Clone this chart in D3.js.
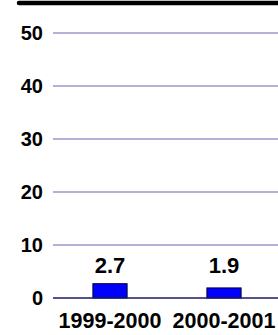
<!DOCTYPE html>
<html>
<head>
<meta charset="utf-8">
<script src="https://cdn.jsdelivr.net/npm/d3@7"></script>
<style>
  body { margin: 0; background: #fff; }
  text { font-family: "Liberation Sans", Arial, sans-serif; font-weight: bold; }
</style>
</head>
<body>
<div id="chart"></div>
<script>
const categories = ['1999-2000', '2000-2001'];
const values = [2.7, 1.9];
const yTicks = [0, 10, 20, 30, 40, 50];

const w = 278;
const h = 335;

const svg = d3.select('#chart')
    .append('svg')
    .attr('width', w)
    .attr('height', h);

// top black rule
svg.append('line')
    .attr('x1', 19).attr('x2', w + 5)
    .attr('y1', 3).attr('y2', 3)
    .attr('stroke', '#000')
    .attr('stroke-width', 4.5)
    .attr('stroke-linecap', 'round');

const xScale = d3.scaleBand()
    .domain(categories)
    .range([53, 281])
    .paddingInner(0.7)
    .paddingOuter(0.35);

const yScale = d3.scaleLinear()
    .domain([0, 50])
    .range([298, 33]);

// gridlines
svg.append('g')
    .selectAll('line')
    .data(yTicks.filter(d => d > 0))
    .enter()
    .append('line')
    .attr('x1', 53).attr('x2', w)
    .attr('y1', d => yScale(d)).attr('y2', d => yScale(d))
    .attr('stroke', '#6565b0')
    .attr('stroke-width', 1);

// y tick labels
svg.append('g')
    .selectAll('text')
    .data(yTicks)
    .enter()
    .append('text')
    .attr('x', 43)
    .attr('y', d => yScale(d) + 7)
    .attr('text-anchor', 'end')
    .attr('font-size', 20)
    .attr('fill', '#000')
    .text(d => d);

// bars
svg.selectAll('rect.bar')
    .data(values)
    .enter()
    .append('rect')
    .attr('class', 'bar')
    .attr('x', (d, i) => xScale(categories[i]))
    .attr('y', d => yScale(d))
    .attr('width', xScale.bandwidth())
    .attr('height', d => yScale(0) - yScale(d))
    .attr('fill', '#0000ff')
    .attr('stroke', '#000033')
    .attr('stroke-width', 1);

// value labels
svg.selectAll('text.val')
    .data(values)
    .enter()
    .append('text')
    .attr('class', 'val')
    .attr('x', (d, i) => xScale(categories[i]) + xScale.bandwidth() / 2)
    .attr('y', 273)
    .attr('text-anchor', 'middle')
    .attr('font-size', 22)
    .attr('fill', '#000')
    .text(d => d.toFixed(1));

// zero axis
svg.append('line')
    .attr('x1', 53).attr('x2', w)
    .attr('y1', yScale(0)).attr('y2', yScale(0))
    .attr('stroke', '#1a1a6e')
    .attr('stroke-width', 1.5);

// category labels
svg.selectAll('text.cat')
    .data(categories)
    .enter()
    .append('text')
    .attr('class', 'cat')
    .attr('x', d => xScale(d) + xScale.bandwidth() / 2)
    .attr('y', 328)
    .attr('text-anchor', 'middle')
    .attr('font-size', 21.5)
    .attr('fill', '#000')
    .text(d => d);
</script>
</body>
</html>
